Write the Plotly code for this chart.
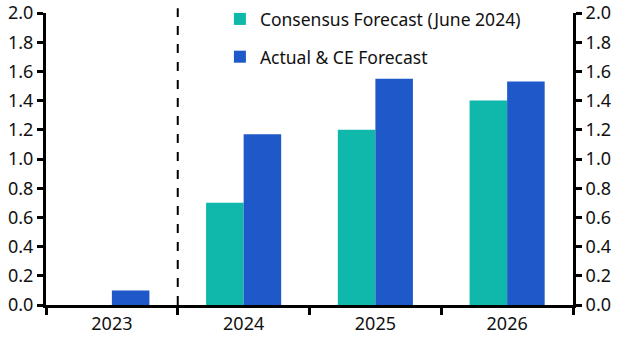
import plotly.graph_objects as go

years = ["2023", "2024", "2025", "2026"]
consensus = [None, 0.70, 1.20, 1.40]
actual_ce = [0.10, 1.17, 1.55, 1.53]
y_ticks = [0.0, 0.2, 0.4, 0.6, 0.8, 1.0, 1.2, 1.4, 1.6, 1.8, 2.0]

TEAL = "#0fb8aa"
BLUE = "#1f58c9"
TICKFONT = dict(family="Noto Sans", size=18, color="#111111")
LEGFONT = dict(family="Noto Sans", size=17.5, color="#111111")

fig = go.Figure()
fig.add_trace(go.Bar(x=years, y=consensus, name="Consensus Forecast (June 2024)",
                     marker=dict(color=TEAL, line=dict(width=0)), legendgroup="a"))
fig.add_trace(go.Bar(x=years, y=actual_ce, name="Actual & CE Forecast",
                     marker=dict(color=BLUE, line=dict(width=0)), legendgroup="b"))
fig.add_trace(go.Scatter(x=years, y=[None] * len(years), yaxis="y2", mode="lines",
                         showlegend=False, hoverinfo="skip"))

tick_text = [f"{v:.1f}" for v in y_ticks]
axis_common = dict(range=[0, 2], tickvals=y_ticks, ticktext=tick_text,
                   showgrid=False, zeroline=False, showline=True, linecolor="black",
                   linewidth=3, ticks="outside", ticklen=6, tickwidth=2.5,
                   tickcolor="black", tickfont=TICKFONT, fixedrange=True,
                   automargin=False)

fig.update_layout(
    width=629, height=354,
    margin=dict(l=46, r=56, t=13, b=49, autoexpand=False),
    paper_bgcolor="white", plot_bgcolor="white",
    barmode="group", bargap=0.43, bargroupgap=0,
    font=TICKFONT,
    showlegend=True,
    legend=dict(x=0.33, y=0.997, xref="paper", yref="container",
                xanchor="left", yanchor="top",
                bgcolor="rgba(0,0,0,0)", font=LEGFONT, tracegroupgap=12,
                traceorder="grouped", itemwidth=30),
    xaxis=dict(type="category", showgrid=False, zeroline=False, showline=True,
               linecolor="black", linewidth=3, ticks="outside", tickson="boundaries",
               ticklen=7, tickwidth=2.5, tickcolor="black", tickfont=TICKFONT,
               automargin=False),
    yaxis=dict(side="left", **axis_common),
    yaxis2=dict(side="right", overlaying="y", **axis_common),
)

fig.add_shape(type="line", xref="x", yref="paper", x0=0.5, x1=0.5, y0=0, y1=1.016,
              line=dict(color="black", width=2, dash="dash"))

fig.write_html("out.html")
